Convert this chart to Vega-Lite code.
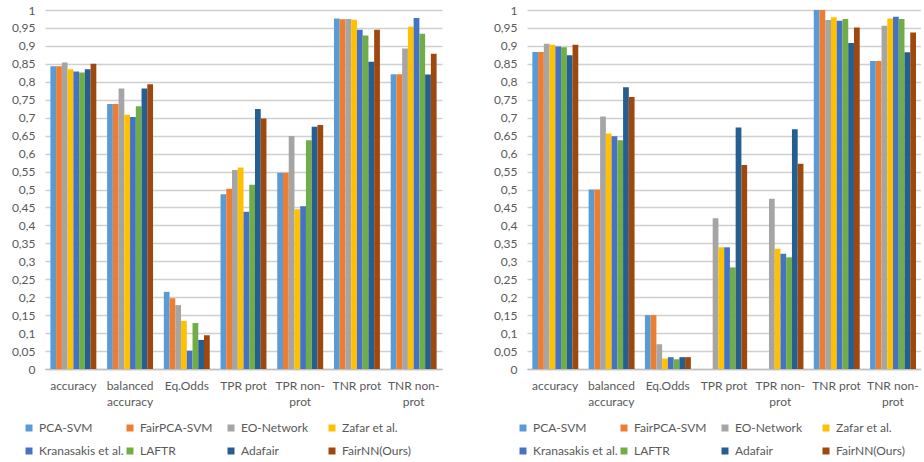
{
  "$schema": "https://vega.github.io/schema/vega-lite/v6.json",
  "padding": {"left": 11, "top": 4, "right": 0, "bottom": 0},
  "background": "white",
  "datasets": {
    "left": [
      {"metric": "accuracy", "method": "PCA-SVM", "value": 0.843},
      {"metric": "accuracy", "method": "FairPCA-SVM", "value": 0.843},
      {"metric": "accuracy", "method": "EO-Network", "value": 0.854},
      {"metric": "accuracy", "method": "Zafar et al.", "value": 0.835},
      {"metric": "accuracy", "method": "Kranasakis et al.", "value": 0.829},
      {"metric": "accuracy", "method": "LAFTR", "value": 0.826},
      {"metric": "accuracy", "method": "Adafair", "value": 0.835},
      {"metric": "accuracy", "method": "FairNN(Ours)", "value": 0.850},
      {"metric": "balanced accuracy", "method": "PCA-SVM", "value": 0.738},
      {"metric": "balanced accuracy", "method": "FairPCA-SVM", "value": 0.738},
      {"metric": "balanced accuracy", "method": "EO-Network", "value": 0.781},
      {"metric": "balanced accuracy", "method": "Zafar et al.", "value": 0.708},
      {"metric": "balanced accuracy", "method": "Kranasakis et al.", "value": 0.702},
      {"metric": "balanced accuracy", "method": "LAFTR", "value": 0.732},
      {"metric": "balanced accuracy", "method": "Adafair", "value": 0.781},
      {"metric": "balanced accuracy", "method": "FairNN(Ours)", "value": 0.793},
      {"metric": "Eq.Odds", "method": "PCA-SVM", "value": 0.215},
      {"metric": "Eq.Odds", "method": "FairPCA-SVM", "value": 0.197},
      {"metric": "Eq.Odds", "method": "EO-Network", "value": 0.178},
      {"metric": "Eq.Odds", "method": "Zafar et al.", "value": 0.134},
      {"metric": "Eq.Odds", "method": "Kranasakis et al.", "value": 0.051},
      {"metric": "Eq.Odds", "method": "LAFTR", "value": 0.128},
      {"metric": "Eq.Odds", "method": "Adafair", "value": 0.081},
      {"metric": "Eq.Odds", "method": "FairNN(Ours)", "value": 0.094},
      {"metric": "TPR prot", "method": "PCA-SVM", "value": 0.487},
      {"metric": "TPR prot", "method": "FairPCA-SVM", "value": 0.502},
      {"metric": "TPR prot", "method": "EO-Network", "value": 0.554},
      {"metric": "TPR prot", "method": "Zafar et al.", "value": 0.561},
      {"metric": "TPR prot", "method": "Kranasakis et al.", "value": 0.438},
      {"metric": "TPR prot", "method": "LAFTR", "value": 0.513},
      {"metric": "TPR prot", "method": "Adafair", "value": 0.724},
      {"metric": "TPR prot", "method": "FairNN(Ours)", "value": 0.698},
      {"metric": "TPR non-prot", "method": "PCA-SVM", "value": 0.547},
      {"metric": "TPR non-prot", "method": "FairPCA-SVM", "value": 0.547},
      {"metric": "TPR non-prot", "method": "EO-Network", "value": 0.649},
      {"metric": "TPR non-prot", "method": "Zafar et al.", "value": 0.445},
      {"metric": "TPR non-prot", "method": "Kranasakis et al.", "value": 0.453},
      {"metric": "TPR non-prot", "method": "LAFTR", "value": 0.637},
      {"metric": "TPR non-prot", "method": "Adafair", "value": 0.675},
      {"metric": "TPR non-prot", "method": "FairNN(Ours)", "value": 0.680},
      {"metric": "TNR prot", "method": "PCA-SVM", "value": 0.976},
      {"metric": "TNR prot", "method": "FairPCA-SVM", "value": 0.974},
      {"metric": "TNR prot", "method": "EO-Network", "value": 0.975},
      {"metric": "TNR prot", "method": "Zafar et al.", "value": 0.973},
      {"metric": "TNR prot", "method": "Kranasakis et al.", "value": 0.945},
      {"metric": "TNR prot", "method": "LAFTR", "value": 0.929},
      {"metric": "TNR prot", "method": "Adafair", "value": 0.856},
      {"metric": "TNR prot", "method": "FairNN(Ours)", "value": 0.945},
      {"metric": "TNR non-prot", "method": "PCA-SVM", "value": 0.821},
      {"metric": "TNR non-prot", "method": "FairPCA-SVM", "value": 0.821},
      {"metric": "TNR non-prot", "method": "EO-Network", "value": 0.893},
      {"metric": "TNR non-prot", "method": "Zafar et al.", "value": 0.953},
      {"metric": "TNR non-prot", "method": "Kranasakis et al.", "value": 0.978},
      {"metric": "TNR non-prot", "method": "LAFTR", "value": 0.934},
      {"metric": "TNR non-prot", "method": "Adafair", "value": 0.820},
      {"metric": "TNR non-prot", "method": "FairNN(Ours)", "value": 0.878}
    ],
    "right": [
      {"metric": "accuracy", "method": "PCA-SVM", "value": 0.883},
      {"metric": "accuracy", "method": "FairPCA-SVM", "value": 0.883},
      {"metric": "accuracy", "method": "EO-Network", "value": 0.906},
      {"metric": "accuracy", "method": "Zafar et al.", "value": 0.903},
      {"metric": "accuracy", "method": "Kranasakis et al.", "value": 0.898},
      {"metric": "accuracy", "method": "LAFTR", "value": 0.896},
      {"metric": "accuracy", "method": "Adafair", "value": 0.874},
      {"metric": "accuracy", "method": "FairNN(Ours)", "value": 0.903},
      {"metric": "balanced accuracy", "method": "PCA-SVM", "value": 0.5},
      {"metric": "balanced accuracy", "method": "FairPCA-SVM", "value": 0.5},
      {"metric": "balanced accuracy", "method": "EO-Network", "value": 0.703},
      {"metric": "balanced accuracy", "method": "Zafar et al.", "value": 0.656},
      {"metric": "balanced accuracy", "method": "Kranasakis et al.", "value": 0.648},
      {"metric": "balanced accuracy", "method": "LAFTR", "value": 0.637},
      {"metric": "balanced accuracy", "method": "Adafair", "value": 0.785},
      {"metric": "balanced accuracy", "method": "FairNN(Ours)", "value": 0.758},
      {"metric": "Eq.Odds", "method": "PCA-SVM", "value": 0.15},
      {"metric": "Eq.Odds", "method": "FairPCA-SVM", "value": 0.15},
      {"metric": "Eq.Odds", "method": "EO-Network", "value": 0.069},
      {"metric": "Eq.Odds", "method": "Zafar et al.", "value": 0.029},
      {"metric": "Eq.Odds", "method": "Kranasakis et al.", "value": 0.033},
      {"metric": "Eq.Odds", "method": "LAFTR", "value": 0.027},
      {"metric": "Eq.Odds", "method": "Adafair", "value": 0.033},
      {"metric": "Eq.Odds", "method": "FairNN(Ours)", "value": 0.033},
      {"metric": "TPR prot", "method": "PCA-SVM", "value": 0},
      {"metric": "TPR prot", "method": "FairPCA-SVM", "value": 0},
      {"metric": "TPR prot", "method": "EO-Network", "value": 0.420},
      {"metric": "TPR prot", "method": "Zafar et al.", "value": 0.339},
      {"metric": "TPR prot", "method": "Kranasakis et al.", "value": 0.339},
      {"metric": "TPR prot", "method": "LAFTR", "value": 0.283},
      {"metric": "TPR prot", "method": "Adafair", "value": 0.673},
      {"metric": "TPR prot", "method": "FairNN(Ours)", "value": 0.568},
      {"metric": "TPR non-prot", "method": "PCA-SVM", "value": 0},
      {"metric": "TPR non-prot", "method": "FairPCA-SVM", "value": 0},
      {"metric": "TPR non-prot", "method": "EO-Network", "value": 0.474},
      {"metric": "TPR non-prot", "method": "Zafar et al.", "value": 0.335},
      {"metric": "TPR non-prot", "method": "Kranasakis et al.", "value": 0.321},
      {"metric": "TPR non-prot", "method": "LAFTR", "value": 0.311},
      {"metric": "TPR non-prot", "method": "Adafair", "value": 0.668},
      {"metric": "TPR non-prot", "method": "FairNN(Ours)", "value": 0.572},
      {"metric": "TNR prot", "method": "PCA-SVM", "value": 1.0},
      {"metric": "TNR prot", "method": "FairPCA-SVM", "value": 1.0},
      {"metric": "TNR prot", "method": "EO-Network", "value": 0.972},
      {"metric": "TNR prot", "method": "Zafar et al.", "value": 0.980},
      {"metric": "TNR prot", "method": "Kranasakis et al.", "value": 0.970},
      {"metric": "TNR prot", "method": "LAFTR", "value": 0.975},
      {"metric": "TNR prot", "method": "Adafair", "value": 0.908},
      {"metric": "TNR prot", "method": "FairNN(Ours)", "value": 0.951},
      {"metric": "TNR non-prot", "method": "PCA-SVM", "value": 0.858},
      {"metric": "TNR non-prot", "method": "FairPCA-SVM", "value": 0.858},
      {"metric": "TNR non-prot", "method": "EO-Network", "value": 0.956},
      {"metric": "TNR non-prot", "method": "Zafar et al.", "value": 0.976},
      {"metric": "TNR non-prot", "method": "Kranasakis et al.", "value": 0.981},
      {"metric": "TNR non-prot", "method": "LAFTR", "value": 0.975},
      {"metric": "TNR non-prot", "method": "Adafair", "value": 0.882},
      {"metric": "TNR non-prot", "method": "FairNN(Ours)", "value": 0.937}
    ]
  },
  "spacing": 51,
  "hconcat": [
    {
      "data": {"name": "left"},
      "width": 397,
      "height": 359,
      "mark": {"type": "bar"},
      "encoding": {
        "x": {"field": "metric", "type": "nominal", "sort": ["accuracy", "balanced accuracy", "Eq.Odds", "TPR prot", "TPR non-prot", "TNR prot", "TNR non-prot"], "scale": {"paddingInner": 0.19, "paddingOuter": 0.095}, "title": null},
        "xOffset": {"field": "method", "type": "nominal", "sort": ["PCA-SVM", "FairPCA-SVM", "EO-Network", "Zafar et al.", "Kranasakis et al.", "LAFTR", "Adafair", "FairNN(Ours)"]},
        "y": {"field": "value", "type": "quantitative", "scale": {"domain": [0, 1]}, "title": null, "axis": {"values": [0, 0.05, 0.1, 0.15, 0.2, 0.25, 0.3, 0.35, 0.4, 0.45, 0.5, 0.55, 0.6, 0.65, 0.7, 0.75, 0.8, 0.85, 0.9, 0.95, 1]}},
        "color": {"field": "method", "type": "nominal", "scale": {"domain": ["PCA-SVM", "FairPCA-SVM", "EO-Network", "Zafar et al.", "Kranasakis et al.", "LAFTR", "Adafair", "FairNN(Ours)"], "range": ["#5B9BD5", "#ED7D31", "#A5A5A5", "#FFC000", "#4472C4", "#70AD47", "#255E91", "#9E480E"]}, "legend": {"legendX": -22, "legendY": 412}}
      }
    },
    {
      "data": {"name": "right"},
      "width": 394,
      "height": 359,
      "mark": {"type": "bar"},
      "encoding": {
        "x": {"field": "metric", "type": "nominal", "sort": ["accuracy", "balanced accuracy", "Eq.Odds", "TPR prot", "TPR non-prot", "TNR prot", "TNR non-prot"], "scale": {"paddingInner": 0.19, "paddingOuter": 0.095}, "title": null},
        "xOffset": {"field": "method", "type": "nominal", "sort": ["PCA-SVM", "FairPCA-SVM", "EO-Network", "Zafar et al.", "Kranasakis et al.", "LAFTR", "Adafair", "FairNN(Ours)"]},
        "y": {"field": "value", "type": "quantitative", "scale": {"domain": [0, 1]}, "title": null, "axis": {"values": [0, 0.05, 0.1, 0.15, 0.2, 0.25, 0.3, 0.35, 0.4, 0.45, 0.5, 0.55, 0.6, 0.65, 0.7, 0.75, 0.8, 0.85, 0.9, 0.95, 1]}},
        "color": {"field": "method", "type": "nominal", "scale": {"domain": ["PCA-SVM", "FairPCA-SVM", "EO-Network", "Zafar et al.", "Kranasakis et al.", "LAFTR", "Adafair", "FairNN(Ours)"], "range": ["#5B9BD5", "#ED7D31", "#A5A5A5", "#FFC000", "#4472C4", "#70AD47", "#255E91", "#9E480E"]}, "legend": {"legendX": -10, "legendY": 412}}
      }
    }
  ],
  "resolve": {"scale": {"color": "independent", "x": "independent", "y": "independent"}, "legend": {"color": "independent"}},
  "config": {
    "font": "Lato",
    "view": {"stroke": null},
    "bar": {"strokeWidth": 0},
    "axisX": {
      "labelAngle": 0,
      "labelFontSize": 12,
      "labelColor": "#595959",
      "labelPadding": 11,
      "labelLineHeight": 16,
      "ticks": false,
      "domainColor": "#bfbfbf",
      "domainWidth": 1.5,
      "grid": false,
      "labelExpr": "datum.label == 'balanced accuracy' ? ['balanced', 'accuracy'] : datum.label == 'TPR non-prot' ? ['TPR non-', 'prot'] : datum.label == 'TNR non-prot' ? ['TNR non-', 'prot'] : datum.label"
    },
    "axisY": {
      "labelFontSize": 12,
      "labelColor": "#595959",
      "labelPadding": 10,
      "labelOverlap": false,
      "ticks": false,
      "domain": false,
      "grid": true,
      "gridColor": "#d0d0d0",
      "gridWidth": 1.5,
      "labelExpr": "replace(format(datum.value, '.2~f'), '.', ',')"
    },
    "legend": {
      "orient": "none",
      "direction": "horizontal",
      "columns": 4,
      "gridAlign": "all",
      "title": null,
      "symbolType": "square",
      "symbolSize": 49,
      "symbolStrokeWidth": 0,
      "labelFontSize": 12,
      "labelColor": "#595959",
      "labelOffset": 4,
      "columnPadding": -25,
      "rowPadding": 11
    }
  }
}
